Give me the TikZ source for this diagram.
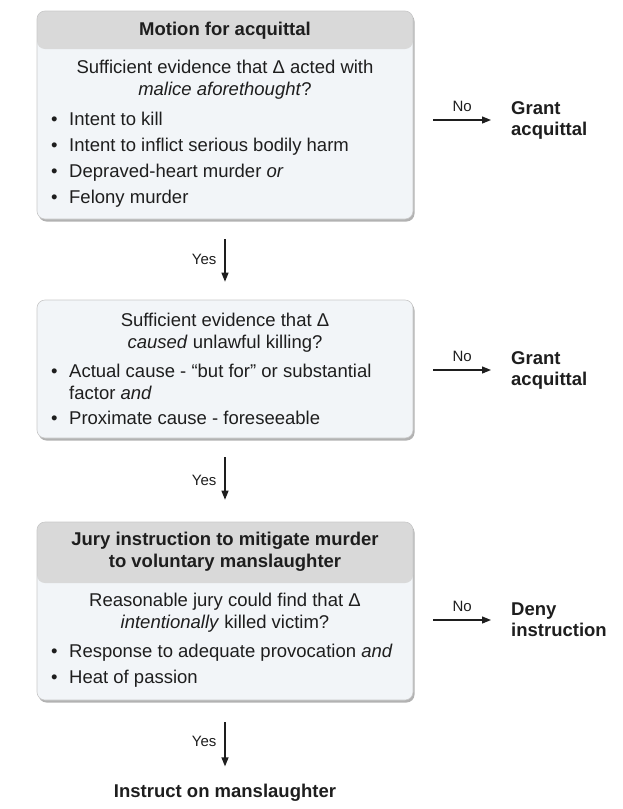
\documentclass[tikz,border=0pt]{standalone}
\usepackage{fontspec}
\setmainfont{Liberation Sans}
\usetikzlibrary{arrows.meta,shadows,positioning}

\definecolor{hdrgray}{HTML}{D9D9D9}
\definecolor{bodyfill}{HTML}{F2F5F8}
\definecolor{edgegray}{HTML}{C8C8C8}
\definecolor{ink}{HTML}{1E1E1E}

\newcommand{\bl}{\makebox[18pt][l]{\textbullet}}

\tikzset{
  panel/.style={draw=edgegray, fill=bodyfill, line width=0.6pt, rounded corners=8pt,
    minimum width=376pt, inner sep=0pt,
    drop shadow={shadow xshift=1.5pt, shadow yshift=-2.5pt, fill=black!55, opacity=0.55}},
  hdr/.style={path picture={\fill[hdrgray] (path picture bounding box.north west)
    rectangle ([yshift=-#1]path picture bounding box.north east);}},
  txt/.style={inner sep=0pt, text=ink, font=\fontsize{18.5}{22}\selectfont, anchor=base},
  bul/.style={txt, anchor=base west},
  head/.style={txt, font=\bfseries\fontsize{18.5}{22}\selectfont},
  res/.style={inner sep=0pt, text=ink, font=\bfseries\fontsize{18.5}{21}\selectfont,
    align=left, anchor=west},
  lbl/.style={inner sep=0pt, text=ink, font=\fontsize{15}{18}\selectfont},
  arr/.style={draw=ink, line width=1.2pt, -{Triangle[length=9pt,width=7pt]}}
}

\begin{document}
\begin{tikzpicture}[x=1pt,y=-1pt]
\useasboundingbox (0,0) rectangle (623,809);

% boxes
\node[panel, hdr=38pt, minimum height=208pt] (b1) at (225,115) {};
\node[panel, minimum height=138pt] (b2) at (225,369) {};
\node[panel, hdr=61pt, minimum height=178pt] (b3) at (225,611) {};

% first box
\node[head] (h1) at (225,35) {Motion for acquittal};
\node[txt] (q1a) at (225,73) {Sufficient evidence that Δ acted with};
\node[txt] (q1b) at (225,95) {\textit{malice aforethought}?};
\node[bul] (i1a) at (51,125) {\bl Intent to kill};
\node[bul] (i1b) at (51,151) {\bl Intent to inflict serious bodily harm};
\node[bul] (i1c) at (51,177) {\bl Depraved-heart murder \textit{or}};
\node[bul] (i1d) at (51,203) {\bl Felony murder};

% second box
\node[txt] (q2a) at (225,326) {Sufficient evidence that Δ};
\node[txt] (q2b) at (225,348) {\textit{caused} unlawful killing?};
\node[bul] (i2a) at (51,377) {\bl Actual cause - “but for” or substantial};
\node[bul] (i2b) at (69,399) {factor \textit{and}};
\node[bul] (i2c) at (51,424) {\bl Proximate cause - foreseeable};

% third box
\node[head] (h3a) at (225,545) {Jury instruction to mitigate murder};
\node[head] (h3b) at (225,567) {to voluntary manslaughter};
\node[txt] (q3a) at (225,606) {Reasonable jury could find that Δ};
\node[txt] (q3b) at (225,628) {\textit{intentionally} killed victim?};
\node[bul] (i3a) at (51,657) {\bl Response to adequate provocation \textit{and}};
\node[bul] (i3b) at (51,683) {\bl Heat of passion};

% outcomes
\node[res] (g1) at (511,120) {Grant\\acquittal};
\node[res] (g2) at (511,370) {Grant\\acquittal};
\node[res] (d3) at (511,620) {Deny\\instruction};
\node[head] (fin) at (225,797) {Instruct on manslaughter};

% connectors
\draw[arr, shorten <=20pt, shorten >=18pt] (b1.south) -- node[lbl, left=8pt] {Yes} (b2.north);
\draw[arr, shorten <=19pt, shorten >=22pt] (b2.south) -- node[lbl, left=8pt] {Yes} (b3.north);
\draw[arr, shorten <=22pt, shorten >=17pt] (b3.south) -- node[lbl, left=8pt] {Yes} (fin.north);
\draw[arr, shorten <=20pt, shorten >=20pt] (b1.east |- g1.west) -- node[lbl, above=8pt] {No} (g1.west);
\draw[arr, shorten <=20pt, shorten >=20pt] (b2.east |- g2.west) -- node[lbl, above=8pt] {No} (g2.west);
\draw[arr, shorten <=20pt, shorten >=20pt] (b3.east |- d3.west) -- node[lbl, above=8pt] {No} (d3.west);
\end{tikzpicture}
\end{document}
